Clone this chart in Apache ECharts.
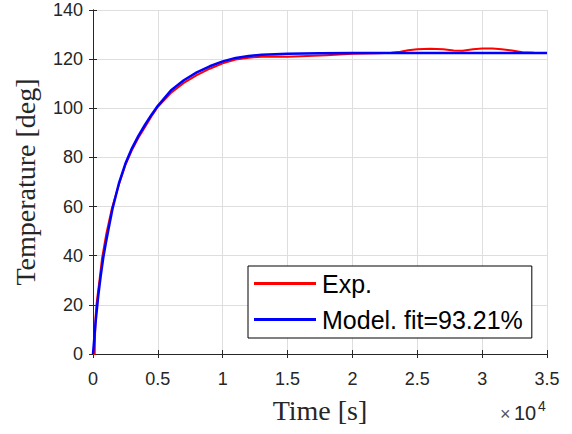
<!DOCTYPE html>
<html>
<head>
<meta charset="utf-8">
<script src="https://cdn.jsdelivr.net/npm/echarts@6/dist/echarts.min.js"></script>
<style>html,body{margin:0;padding:0;background:#fff}#c{width:572px;height:434px}</style>
</head>
<body>
<div id="c"></div>
<script>
// Data
const seriesNames = ['Exp.', 'Model. fit=93.21%'];
const expTime = [0, 130, 160, 200, 270, 380, 500, 700, 1030, 1470, 2000, 2500, 3000, 3500, 4000, 4500, 5000, 6000, 7000, 8000, 9000, 10000, 11000, 12000, 13000, 14000, 15000, 16000, 17000, 18000, 19000, 20000, 21000, 22000, 23000, 23700, 24300, 25000, 26000, 27000, 27800, 28500, 29300, 30000, 30800, 31500, 32300, 33100, 34000, 35000];
const expTemp = [0, 0, 8, 15, 20, 25, 30, 39, 49, 59.5, 69, 77, 83, 88, 92.3, 96.7, 100.6, 106.2, 110.3, 113.5, 116.1, 118.3, 119.8, 120.6, 121, 121.1, 121.0, 121.2, 121.4, 121.6, 121.9, 122.2, 122.3, 122.4, 122.6, 123.0, 123.6, 124.0, 124.2, 124.0, 123.5, 123.4, 124.0, 124.3, 124.3, 124.0, 123.5, 122.8, 122.6, 122.5];
const modelTime = [0, 200, 400, 600, 800, 1000, 1200, 1500, 2000, 2500, 3000, 3500, 4000, 4500, 5000, 6000, 7000, 8000, 9000, 10000, 11000, 12000, 13000, 15000, 17500, 20000, 35000];
const modelTemp = [0, 13, 23.5, 32, 39.5, 45.5, 51, 59, 69.5, 77.5, 83.7, 88.8, 93.2, 97.3, 101, 107.2, 111.4, 114.6, 117.1, 119.1, 120.5, 121.3, 121.8, 122.2, 122.4, 122.5, 122.5];
const xTicks = [0, 5000, 10000, 15000, 20000, 25000, 30000, 35000];
const yTicks = [0, 20, 40, 60, 80, 100, 120, 140];

const pairs = (t, v) => t.map((x, i) => [x, v[i]]);
const sans = 'Liberation Sans';
const serif = 'Liberation Serif';
const ink = '#262626';

const chart = echarts.init(document.getElementById('c'), null, {renderer: 'svg'});
chart.setOption({
  animation: false,
  backgroundColor: '#fff',
  grid: {left: 93, top: 10, right: 25, bottom: 80, containLabel: false},
  legend: {
    orient: 'vertical', left: 248, top: 266,
    padding: [5, 9, 6, 6], itemGap: 11,
    itemWidth: 62, itemHeight: 3, icon: 'rect',
    borderColor: '#000', borderWidth: 1, backgroundColor: '#fff',
    textStyle: {fontFamily: sans, fontSize: 25, color: '#000', padding: [0, 0, 0, 1]},
    data: seriesNames
  },
  xAxis: [{
    type: 'value', min: xTicks[0], max: xTicks[xTicks.length - 1], interval: xTicks[1] - xTicks[0],
    name: 'Time [s]', nameLocation: 'middle', nameGap: 42,
    nameTextStyle: {fontFamily: serif, fontSize: 28, color: ink},
    axisLine: {show: true, lineStyle: {color: ink, width: 1}},
    axisTick: {show: true, inside: true, length: 4, lineStyle: {color: ink}},
    axisLabel: {fontFamily: sans, fontSize: 18, color: ink, margin: 16, formatter: v => String(v / 10000)},
    splitLine: {show: true, lineStyle: {color: '#dedede', width: 1}}
  }, {
    type: 'value', position: 'top', min: xTicks[0], max: xTicks[xTicks.length - 1], interval: xTicks[1] - xTicks[0],
    axisLine: {show: true, lineStyle: {color: ink, width: 1}},
    axisTick: {show: true, inside: true, length: 4, lineStyle: {color: ink}},
    axisLabel: {show: false}, splitLine: {show: false}
  }],
  yAxis: [{
    type: 'value', min: yTicks[0], max: yTicks[yTicks.length - 1], interval: yTicks[1] - yTicks[0],
    name: 'Temperature [deg]', nameLocation: 'middle', nameGap: 54, nameRotate: 90,
    nameTextStyle: {fontFamily: serif, fontSize: 28, color: ink},
    axisLine: {show: true, lineStyle: {color: ink, width: 1}},
    axisTick: {show: true, inside: true, length: 4, lineStyle: {color: ink}},
    axisLabel: {fontFamily: sans, fontSize: 18, color: ink, margin: 10},
    splitLine: {show: true, lineStyle: {color: '#dedede', width: 1}}
  }, {
    type: 'value', position: 'right', min: yTicks[0], max: yTicks[yTicks.length - 1], interval: yTicks[1] - yTicks[0],
    axisLine: {show: true, lineStyle: {color: ink, width: 1}},
    axisTick: {show: true, inside: true, length: 4, lineStyle: {color: ink}},
    axisLabel: {show: false}, splitLine: {show: false}
  }],
  graphic: [
    {type: 'text', x: 500, y: 414, style: {text: '×', fontFamily: sans, fontSize: 18, fill: '#555', verticalAlign: 'middle'}},
    {type: 'text', x: 514, y: 413, style: {text: '10', fontFamily: sans, fontSize: 20, fill: ink, verticalAlign: 'middle'}},
    {type: 'text', x: 538, y: 406, style: {text: '4', fontFamily: sans, fontSize: 14, fill: ink, verticalAlign: 'middle'}}
  ],
  series: [{
    name: seriesNames[0], type: 'line', showSymbol: false, symbol: 'none',
    data: pairs(expTime, expTemp),
    lineStyle: {color: '#ff0000', width: 2, join: 'round'}, itemStyle: {color: '#ff0000'}, z: 2
  }, {
    name: seriesNames[1], type: 'line', showSymbol: false, symbol: 'none',
    data: pairs(modelTime, modelTemp),
    lineStyle: {color: '#0000ff', width: 2.5, join: 'round'}, itemStyle: {color: '#0000ff'}, z: 3
  }]
});
</script>
</body>
</html>
